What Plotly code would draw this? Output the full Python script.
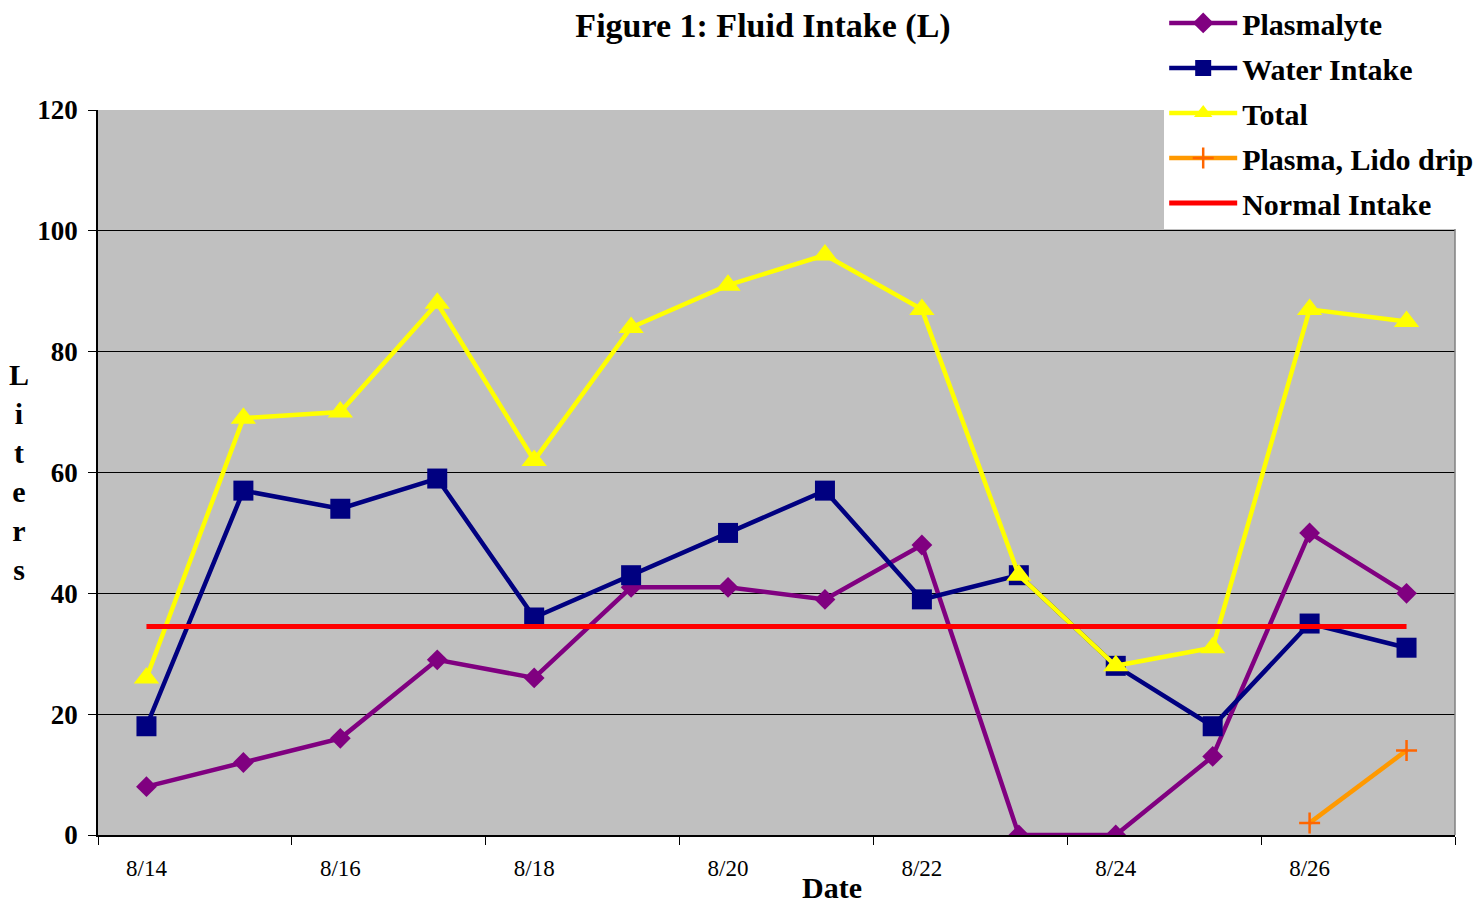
import plotly.graph_objects as go

dates = ["8/14", "8/15", "8/16", "8/17", "8/18", "8/19", "8/20",
         "8/21", "8/22", "8/23", "8/24", "8/25", "8/26", "8/27"]
plasmalyte = [8, 12, 16, 29, 26, 41, 41, 39, 48, 0, 0, 13, 50, 40]
water_intake = [18, 57, 54, 59, 36, 43, 50, 57, 39, 43, 28, 18, 35, 31]
total = [26, 69, 70, 88, 62, 84, 91, 96, 87, 43, 28, 31, 87, 85]
plasma_lido = [None] * 12 + [2, 14]
normal_intake = [34.5] * 14
y_ticks = [0, 20, 40, 60, 80, 100, 120]

FONT = "Times New Roman, Liberation Serif, serif"
xi = list(range(len(dates)))

fig = go.Figure()
fig.add_trace(go.Scatter(x=xi, y=plasmalyte, name="Plasmalyte", mode="lines+markers",
                         line=dict(color="#800080", width=4.5),
                         marker=dict(symbol="diamond", size=16, color="#800080"),
                         legendrank=1, legendgroup="a"))
fig.add_trace(go.Scatter(x=xi, y=water_intake, name="Water Intake", mode="lines+markers",
                         line=dict(color="#000080", width=4.5),
                         marker=dict(symbol="square", size=20, color="#000080"),
                         legendrank=2, legendgroup="b"))
fig.add_trace(go.Scatter(x=xi, y=total, name="Total", mode="lines+markers",
                         line=dict(color="#FFFF00", width=4.5),
                         marker=dict(symbol="triangle-up", size=22, color="#FFFF00"),
                         legendrank=3, legendgroup="c"))
fig.add_trace(go.Scatter(x=xi, y=plasma_lido, name="Plasma, Lido drip", mode="lines+markers",
                         line=dict(color="#FF9900", width=4.5),
                         marker=dict(symbol="cross-thin", size=15,
                                     line=dict(color="#FF6600", width=2.5)),
                         legendrank=4, legendgroup="d"))
fig.add_trace(go.Scatter(x=xi, y=normal_intake, name="Normal Intake", mode="lines",
                         line=dict(color="#FF0000", width=5),
                         legendrank=5, legendgroup="e"))

# the page body adds an 8px offset, so figure coordinates are shifted by -8
fig.update_layout(
    width=1483, height=902,
    margin=dict(l=90, r=36, t=102, b=75, autoexpand=False),
    paper_bgcolor="white", plot_bgcolor="#C0C0C0",
    font=dict(family=FONT, color="black"),
    title=dict(text="<b>Figure 1: Fluid Intake (L)</b>", font=dict(size=34, family=FONT),
               x=755 / 1483, xanchor="center", xref="container",
               y=1 - 17 / 902, yanchor="middle", yref="container"),
    showlegend=True,
    legend=dict(x=0.7857, xanchor="left", y=1.156, yanchor="top",
                bgcolor="white", borderwidth=0,
                font=dict(size=30, family=FONT, color="black", weight="bold"),
                itemwidth=68, tracegroupgap=3, traceorder="grouped"),
)

fig.update_xaxes(range=[-0.5, 13.5], tickmode="array", tickvals=xi[::2],
                 ticktext=dates[::2], ticks="outside", ticklen=12,
                 tickcolor="rgba(0,0,0,0)", tickfont=dict(size=23, family=FONT),
                 showgrid=False, zeroline=False, showline=True, linecolor="black",
                 linewidth=1.5,
                 minor=dict(tickmode="linear", tick0=-0.5, dtick=2, ticks="outside",
                            ticklen=8, tickcolor="black", tickwidth=1, showgrid=False))
fig.update_yaxes(range=[0, 120], tickmode="array", tickvals=y_ticks,
                 ticktext=["<b>%d</b>" % v for v in y_ticks],
                 ticks="outside", ticklen=8, tickcolor="black", ticklabelstandoff=5,
                 tickfont=dict(size=27, family=FONT),
                 showgrid=True, gridcolor="black", gridwidth=1,
                 zeroline=False, showline=True, linecolor="black", linewidth=1.5,
                 mirror=False)

# right border of plot area (gray)
fig.add_shape(type="line", xref="paper", yref="paper", x0=1, x1=1, y0=0, y1=1,
              line=dict(color="#808080", width=1.5))

fig.add_annotation(text="<b>Date</b>", xref="paper", yref="paper",
                   x=(832 - 98) / 1357, y=(835 - 887) / 725, xanchor="center",
                   yanchor="middle", showarrow=False, font=dict(size=30, family=FONT))
fig.add_annotation(text="<b>L<br>i<br>t<br>e<br>r<br>s</b>", xref="paper", yref="paper",
                   x=(19 - 98) / 1357, y=(835 - 472) / 725, xanchor="center",
                   yanchor="middle", showarrow=False, align="center",
                   font=dict(size=30, family=FONT))

fig.write_html("out.html")
